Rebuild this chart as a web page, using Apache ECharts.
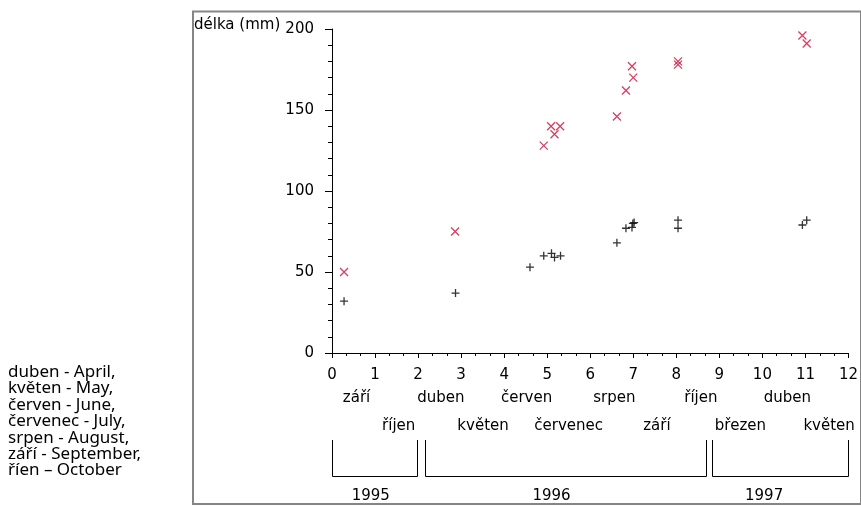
<!DOCTYPE html>
<html>
<head>
<meta charset="utf-8">
<script src="https://cdn.jsdelivr.net/npm/echarts@6/dist/echarts.min.js"></script>
<style>
  html, body { margin: 0; padding: 0; background: #fff; }
  #chart { width: 861px; height: 506px; }
</style>
</head>
<body>
<div id="chart"></div>
<script>
// Length measurements (mm) against time in months-axis units
const redX = [0.28, 2.86, 4.92, 5.09, 5.30, 5.17, 6.62, 6.83, 6.97, 7.00, 8.04, 8.04, 10.93, 11.03];
const redY = [50, 75, 128, 140, 140, 135, 146, 162, 177, 170, 180, 178, 196, 191];
const blackX = [0.28, 2.87, 4.60, 4.92, 5.10, 5.17, 5.31, 6.62, 6.83, 6.97, 6.99, 7.02, 8.04, 8.04, 10.93, 11.03];
const blackY = [32, 37, 53, 60, 61.5, 59, 60, 68, 77, 77.5, 80, 80.5, 82, 77, 79, 82];

// Month names under the time axis (two staggered rows) and year groups
const monthRow1 = ['září', 'duben', 'červen', 'srpen', 'říjen', 'duben'];
const monthRow1X = [0.57, 2.53, 4.52, 6.56, 8.57, 10.58];
const monthRow2 = ['říjen', 'květen', 'červenec', 'září', 'březen', 'květen'];
const monthRow2X = [1.55, 3.51, 5.50, 7.55, 9.49, 11.55];
const years = ['1995', '1996', '1997'];
const yearX = [0.90, 5.10, 10.04];
const yearStart = [0, 2.16, 8.83];
const yearEnd = [1.985, 8.68, 12];

const legendLines = [
  'duben - April,',
  'květen - May,',
  'červen - June,',
  'červenec - July,',
  'srpen - August,',
  'září - September,',
  'říen – October'
];

const FONT = 'DejaVu Sans';
const RED = '#cc0f3a';

const chart = echarts.init(document.getElementById('chart'), null, { renderer: 'canvas' });

const axisCommon = {
  axisLine: { show: true, onZero: false, lineStyle: { color: '#000', width: 1 } },
  splitLine: { show: false },
  axisLabel: { color: '#000', fontFamily: FONT, fontSize: 15 }
};

chart.setOption({
  animation: false,
  backgroundColor: '#fff',
  grid: { left: 332, right: 11, top: 29, bottom: 153, containLabel: false },
  xAxis: Object.assign({}, axisCommon, {
    type: 'value', min: 0, max: 12, interval: 1,
    axisTick: { show: true, length: 5, lineStyle: { color: '#000' } },
    minorTick: { show: true, splitNumber: 3, length: 3, lineStyle: { color: '#000' } },
    axisLabel: Object.assign({}, axisCommon.axisLabel, { margin: 15 })
  }),
  yAxis: Object.assign({}, axisCommon, {
    type: 'value', min: 0, max: 200, interval: 50,
    axisTick: { show: true, length: 7, lineStyle: { color: '#000' } },
    minorTick: { show: true, splitNumber: 5, length: 4, lineStyle: { color: '#000' } },
    axisLabel: Object.assign({}, axisCommon.axisLabel, { margin: 18 })
  }),
  series: [
    {
      type: 'scatter',
      data: blackX.map((x, i) => [x, blackY[i]]),
      symbol: 'path://M5,0L5,10M0,5L10,5',
      symbolSize: 8,
      itemStyle: { color: 'transparent', borderColor: '#000', borderWidth: 1.3 }
    },
    {
      type: 'scatter',
      data: redX.map((x, i) => [x, redY[i]]),
      symbol: 'path://M0,0L10,10M10,0L0,10',
      symbolSize: 8,
      itemStyle: { color: 'transparent', borderColor: RED, borderWidth: 1.3 }
    }
  ]
});

// Annotations placed in axis units along the time axis
const px = v => chart.convertToPixel({ xAxisIndex: 0 }, v);
const graphics = [];

// outer frame
graphics.push({
  type: 'rect', silent: true, z: 1,
  shape: { x: 193, y: 11.5, width: 668, height: 492.5 },
  style: { fill: 'none', stroke: '#858585', lineWidth: 2 }
});

// axis title
graphics.push({
  type: 'text', left: 194, top: 18,
  style: { text: 'délka (mm)', font: '15px "' + FONT + '"', fill: '#000' }
});

const centeredText = (t, x, y) => ({
  type: 'text', x: x, y: y,
  style: { text: t, font: '15px "' + FONT + '"', fill: '#000', align: 'center', verticalAlign: 'middle' }
});

monthRow1.forEach((m, i) => graphics.push(centeredText(m, px(monthRow1X[i]), 398)));
monthRow2.forEach((m, i) => graphics.push(centeredText(m, px(monthRow2X[i]), 426)));
years.forEach((y, i) => graphics.push(centeredText(y, px(yearX[i]), 496)));

// year brackets
years.forEach((y, i) => {
  const a = Math.round(px(yearStart[i])) + 0.5;
  const b = Math.round(px(yearEnd[i])) + 0.5;
  graphics.push({
    type: 'polyline', silent: true,
    shape: { points: [[a, 440], [a, 476.5], [b, 476.5], [b, 440]] },
    style: { stroke: '#000', lineWidth: 1, fill: 'none' }
  });
});

// month name translations
graphics.push({
  type: 'text', x: 8, y: 364,
  style: {
    text: legendLines.join('\n'),
    font: '17px "Noto Sans"', lineHeight: 16.4, fill: '#000'
  }
});

chart.setOption({ graphic: graphics });
</script>
</body>
</html>
